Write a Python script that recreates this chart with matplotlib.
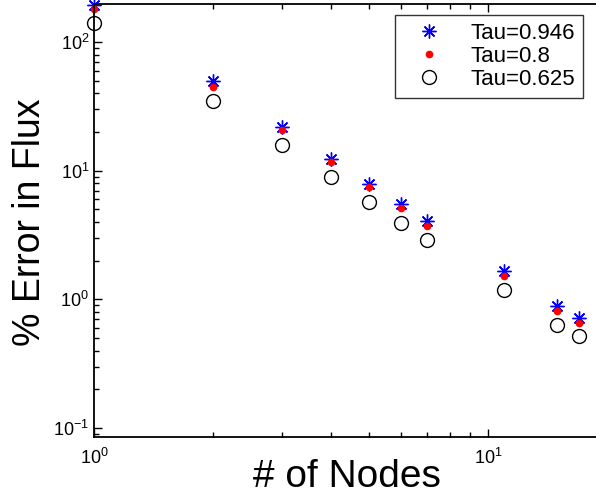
import numpy as np
from matplotlib import pyplot as plt
from matplotlib import ticker

# data
nodes = [1, 2, 3, 4, 5, 6, 7, 11, 15, 17]
err_946 = [195, 50, 21.9, 12.3, 7.9, 5.55, 4.08, 1.66, 0.88, 0.71]
err_800 = [181, 45.1, 20.7, 11.7, 7.46, 5.13, 3.73, 1.51, 0.81, 0.65]
err_625 = [140, 35.1, 15.8, 8.9, 5.7, 3.94, 2.90, 1.18, 0.63, 0.52]
labels = ['Tau=0.946', 'Tau=0.8', 'Tau=0.625']

plt.rcParams['font.family'] = ['Liberation Sans', 'DejaVu Sans']
plt.rcParams['mathtext.default'] = 'regular'

fig = plt.figure(figsize=(5.96, 5.0), dpi=100)
ax = fig.add_axes([94 / 596, 63 / 500, 1 - 94 / 596, 433 / 500])

ax.plot(nodes, err_946, linestyle='none', marker=(8, 2, 0), markersize=10,
        markeredgewidth=1.0, color='blue', label=labels[0], clip_on=False)
ax.plot(nodes, err_800, linestyle='none', marker='o', markersize=4.5,
        color='red', markeredgecolor='red', label=labels[1], clip_on=False)
ax.plot(nodes, err_625, linestyle='none', marker='o', markersize=10,
        markerfacecolor='none', markeredgecolor='black', markeredgewidth=1.0,
        label=labels[2], clip_on=False)

ax.set_xscale('log')
ax.set_yscale('log')
ax.set_xlim(1, 10 ** ((596 - 94) / 394))
ax.set_ylim(0.085, 198)

ax.xaxis.set_minor_formatter(ticker.NullFormatter())
ax.yaxis.set_minor_formatter(ticker.NullFormatter())
ax.tick_params(which='both', direction='in', top=True, right=False, labelsize=13)
ax.tick_params(which='major', length=6, width=1)
ax.tick_params(which='minor', length=3.5, width=1)
ax.tick_params(axis='x', pad=8)
for s in ax.spines.values():
    s.set_linewidth(1.3)
ax.spines['right'].set_visible(False)

fig.text(347 / 596, 1 - 477 / 500, '# of Nodes', fontsize=28, ha='center', va='center')
fig.text(30 / 596, 1 - 222 / 500, '% Error in Flux', fontsize=27, ha='center',
         va='center', rotation=90)

leg = ax.legend(loc='upper right', bbox_to_anchor=((583 - 94) / 502, (500 - 63 - 15) / 433),
                fontsize=16, frameon=True, fancybox=False, edgecolor='black',
                borderpad=0.35, labelspacing=0.1, handlelength=2.4, handletextpad=0.65,
                borderaxespad=0)
leg.get_frame().set_linewidth(1.0)

fig.savefig('out.png', dpi=100)
